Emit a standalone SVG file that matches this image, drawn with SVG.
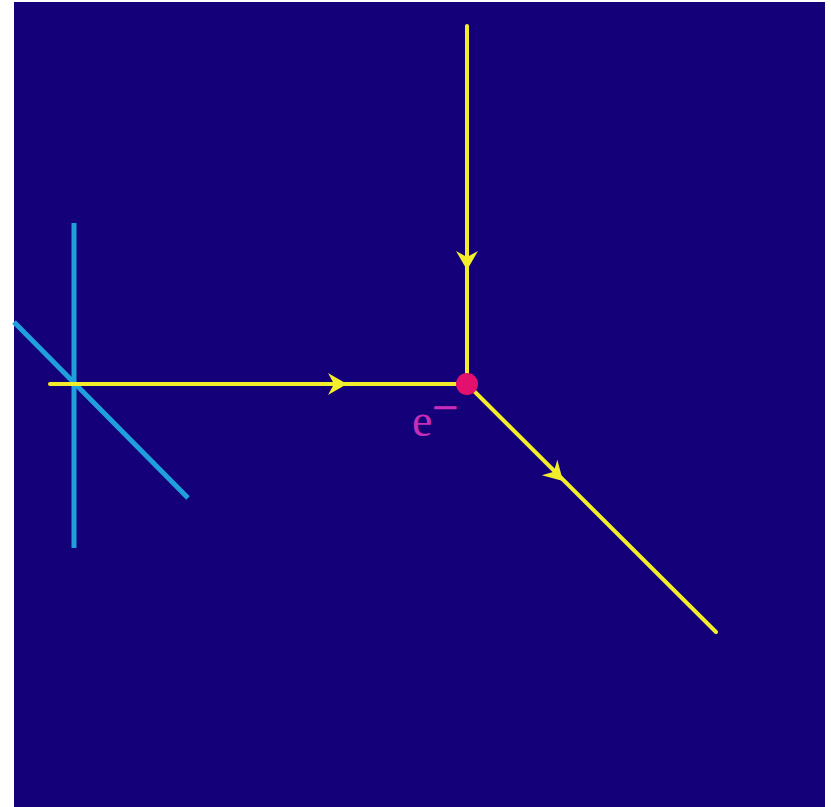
<svg xmlns="http://www.w3.org/2000/svg" xmlns:xlink="http://www.w3.org/1999/xlink" width="831" height="807" viewBox="0 0 831 807">
<style>
.y{stroke:#F2EE2C;stroke-width:4;fill:none;stroke-linecap:round}
.c{stroke:#1FA0DC;stroke-width:5;fill:none}
.ah{fill:#F2EE2C}
</style>
<defs>
<path id="arr" d="M0,0 L-19,-11 L-13,0 L-19,11 Z"/>
</defs>
<rect x="0" y="0" width="831" height="807" fill="#ffffff"/>
<rect x="14" y="2" width="811" height="805" fill="#140078"/>
<g id="detector">
<line class="c" x1="74" y1="223" x2="74" y2="548"/>
<line class="c" x1="14" y1="322" x2="188" y2="498"/>
</g>
<g id="connectors">
<line class="y" x1="50" y1="384" x2="467" y2="384"/>
<line class="y" x1="467" y1="26" x2="467" y2="384"/>
<line class="y" x1="467" y1="384" x2="716" y2="632"/>
<use class="ah" xlink:href="#arr" transform="translate(347,384)"/>
<use class="ah" xlink:href="#arr" transform="translate(467,270) rotate(90)"/>
<use class="ah" xlink:href="#arr" transform="translate(563,481) rotate(45)"/>
</g>
<g id="vertex">
<circle cx="467" cy="384" r="11" fill="#E4106E"/>
<text x="412" y="436" font-family="Liberation Serif, Times New Roman, serif" font-size="46" fill="#C62DB8">e<tspan dy="-13" stroke="#C62DB8" stroke-width="0.8">−</tspan></text>
</g>
</svg>
